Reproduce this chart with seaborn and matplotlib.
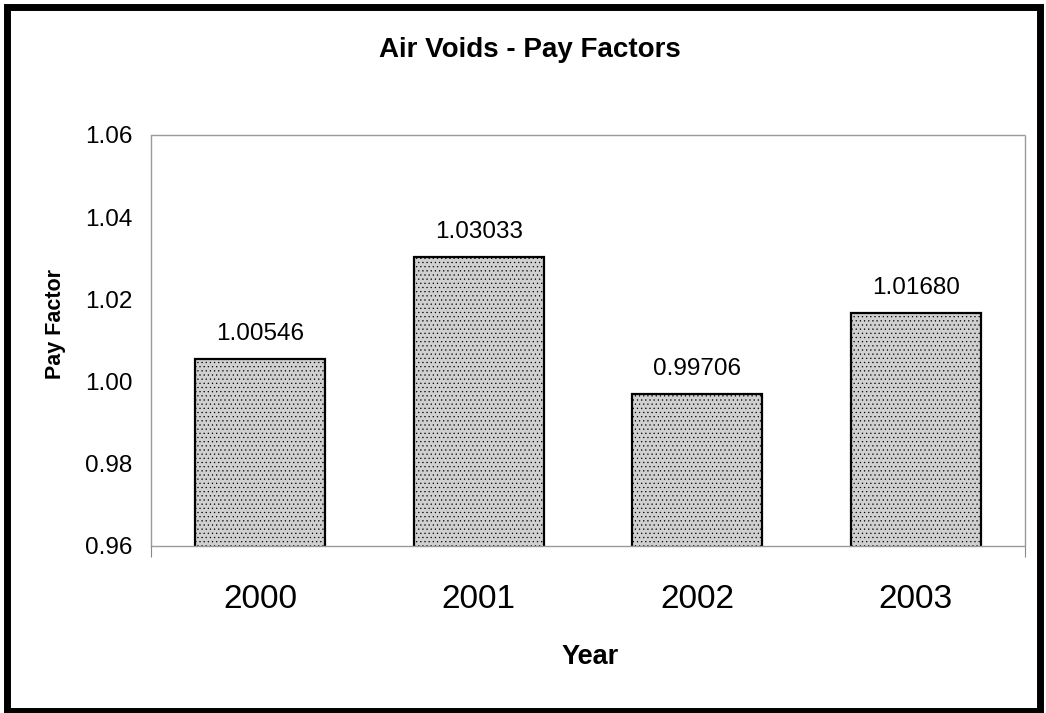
import matplotlib
matplotlib.use("Agg")
import matplotlib.pyplot as plt
import seaborn as sns
import pandas as pd
from matplotlib.patches import Rectangle
from matplotlib.ticker import FixedLocator

years = ["2000", "2001", "2002", "2003"]
pay_factors = [1.00546, 1.03033, 0.99706, 1.01680]
bar_labels = ["1.00546", "1.03033", "0.99706", "1.01680"]
y_ticks = [0.96, 0.98, 1.00, 1.02, 1.04, 1.06]

sns.set_theme(style="white")
plt.rcParams['font.family'] = ['Liberation Sans', 'DejaVu Sans']
plt.rcParams['text.color'] = 'black'
plt.rcParams['hatch.color'] = '#a8a8a8'
plt.rcParams['hatch.linewidth'] = 0.4

W, H = 1046, 713
df = pd.DataFrame({"Year": years, "Pay Factor": pay_factors})

fig = plt.figure(figsize=(W / 100, H / 100), dpi=100)
ax = fig.add_axes([151 / W, 1 - 546 / H, (1025 - 151) / W, (546 - 135) / H])

sns.barplot(data=df, x="Year", y="Pay Factor", color="#d0d0d0", edgecolor="black",
            linewidth=1.6, width=0.595, saturation=1, ax=ax)
for p in ax.patches:
    p.set_hatch("....")
    p.set_edgecolor("black")

ax.set_xlim(-0.5, len(years) - 0.5)
ax.set_ylim(0.96, 1.06)
ax.set_yticks(y_ticks)
ax.set_yticklabels([f"{v:.2f}" for v in y_ticks], fontsize=17.5, color='black')
ax.tick_params(axis='x', which='major', labelsize=24, pad=27, length=0, labelcolor='black')
ax.tick_params(axis='y', pad=13.5, length=0)
ax.xaxis.set_minor_locator(FixedLocator([-0.5, len(years) - 0.5]))
ax.tick_params(axis='x', which='minor', bottom=True, length=8, width=0.8, color='#888888')

for i, (v, lab) in enumerate(zip(pay_factors, bar_labels)):
    ax.annotate(lab, (i, v), xytext=(0, 13.5), textcoords='offset points',
                ha='center', va='baseline', fontsize=17.5, color='black')

for s in ax.spines.values():
    s.set_color('#9a9a9a')
    s.set_linestyle((0, (1, 1)))
    s.set_linewidth(1)

ax.set_xlabel("")
ax.set_ylabel("")
fig.text(590 / W, 1 - 657 / H, "Year", ha='center', va='center',
         fontsize=19.5, fontweight='bold')
fig.text(55 / W, 1 - 324 / H, "Pay Factor", ha='center', va='center', rotation=90,
         fontsize=15.5, fontweight='bold')
fig.text(530 / W, 1 - 50 / H, "Air Voids - Pay Factors", ha='center', va='center',
         fontsize=20, fontweight='bold')

fig.patches.append(Rectangle((6.5 / W, 2 / H), (1040 - 6.5) / W, (711 - 6.5) / H,
                             transform=fig.transFigure, fill=False,
                             edgecolor='black', linewidth=5))

fig.savefig("out.png", dpi=100)
